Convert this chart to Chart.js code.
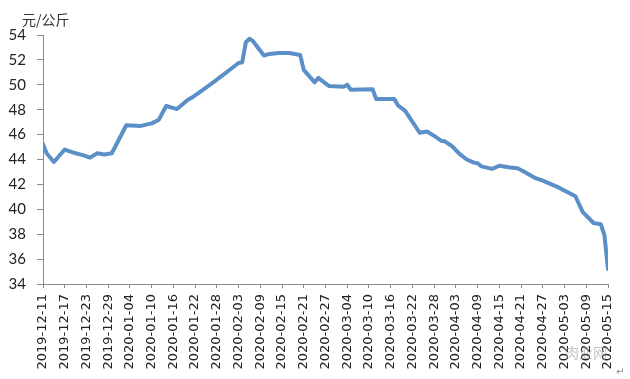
<!DOCTYPE html>
<html><head><meta charset="utf-8">
<script src="https://cdn.jsdelivr.net/npm/chart.js@4"></script>
<style>html,body{margin:0;padding:0;background:#fff}</style>
</head><body>
<canvas id="c" width="630" height="379"></canvas>
<script>
const tickLabels = ['2019-12-11','2019-12-17','2019-12-23','2019-12-29','2020-01-04','2020-01-10','2020-01-16','2020-01-22','2020-01-28','2020-02-03','2020-02-09','2020-02-15','2020-02-21','2020-02-27','2020-03-04','2020-03-10','2020-03-16','2020-03-22','2020-03-28','2020-04-03','2020-04-09','2020-04-15','2020-04-21','2020-04-27','2020-05-03','2020-05-09','2020-05-15'];
// day offsets from 2019-12-11 at which the line changes direction
const days = [0,1,3,6,9,11,13,15,17,19,23,27,30,32,34,37,40,41,43,47,50,54,55,56,57,58,61,62,65,68,71,72,75,76,79,83,84,85,91,92,97,98,100,104,106,108,110,111,113,115,117,119,120,121,124,126,129,131,133,136,138,142,145,147,149,152,154,155,156];
const prices = [45.25,44.5,43.8,44.8,44.5,44.35,44.15,44.5,44.4,44.5,46.75,46.7,46.9,47.2,48.3,48.05,48.8,48.95,49.35,50.2,50.85,51.75,51.8,53.4,53.7,53.5,52.35,52.45,52.55,52.55,52.4,51.2,50.2,50.55,49.9,49.85,50.0,49.6,49.65,48.85,48.85,48.35,47.9,46.15,46.25,45.9,45.5,45.45,45.05,44.45,44.0,43.75,43.7,43.45,43.25,43.5,43.35,43.3,43.0,42.5,42.3,41.8,41.35,41.05,39.8,38.9,38.8,37.95,35.2];
const yMin = 34, yMax = 54, yStep = 2, xStep = 6;
const unitLabel = '元/公斤';
const watermark = '肉业网';

const extraText = {
  id: 'extraText',
  afterDraw(chart) {
    const ctx = chart.ctx;
    ctx.save();
    ctx.fillStyle = '#333';
    ctx.font = '14px "Noto Sans CJK SC"';
    ctx.textBaseline = 'alphabetic';
    ctx.fillText(unitLabel, 22, 25);
    ctx.fillStyle = 'rgba(150,150,150,0.55)';
    ctx.font = '14px "Noto Sans CJK SC"';
    ctx.fillText(watermark, 565, 358);
    ctx.fillStyle = '#888';
    ctx.font = '10px "DejaVu Sans"';
    ctx.fillText('↵', 616, 375);
    ctx.restore();
  }
};

new Chart(document.getElementById('c'), {
  type: 'line',
  data: {
    datasets: [{
      data: days.map((d, i) => ({x: d, y: prices[i]})),
      borderColor: '#5B8FC7',
      borderWidth: 4,
      borderJoinStyle: 'round',
      borderCapStyle: 'round',
      pointRadius: 0,
      tension: 0,
      fill: false
    }]
  },
  options: {
    responsive: false,
    animation: false,
    layout: {padding: {left: 0, right: 22, top: 35, bottom: 0}},
    plugins: {legend: {display: false}, tooltip: {enabled: false}},
    scales: {
      x: {
        type: 'linear',
        min: 0, max: 156,
        afterFit(s) { s.height = 95; },
        border: {display: true, color: '#8a8a8a', width: 1},
        grid: {display: true, drawOnChartArea: false, drawTicks: true, tickLength: 4, color: '#8a8a8a'},
        ticks: {
          stepSize: xStep,
          autoSkip: false,
          minRotation: 90, maxRotation: 90,
          padding: 6,
          color: '#222',
          font: {family: '"DejaVu Sans"', size: 13},
          callback: (v) => tickLabels[Math.round(v / xStep)]
        }
      },
      y: {
        min: yMin, max: yMax,
        afterFit(s) { s.width = 43; },
        border: {display: true, color: '#8a8a8a', width: 1},
        grid: {display: true, drawOnChartArea: false, drawTicks: true, tickLength: 6, color: '#8a8a8a'},
        ticks: {
          stepSize: yStep,
          padding: 11,
          color: '#222',
          font: {family: 'Lato', size: 15}
        }
      }
    }
  },
  plugins: [extraText]
});
</script>
</body></html>
